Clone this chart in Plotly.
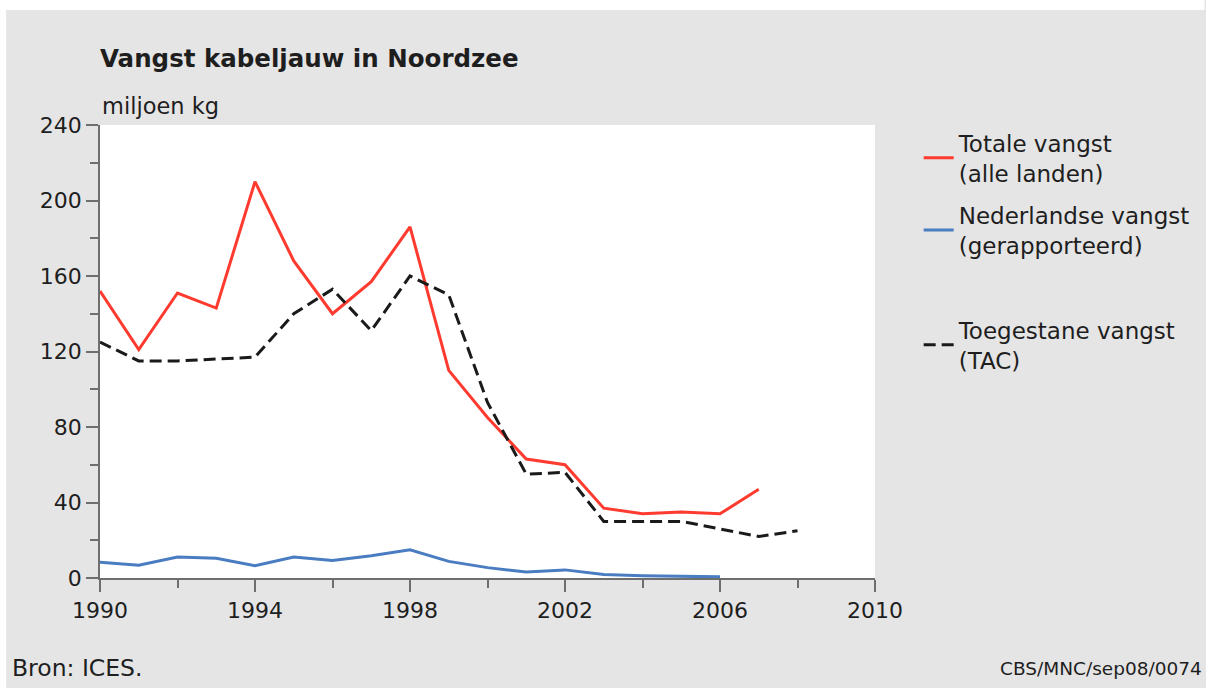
import plotly.graph_objects as go

years_total = list(range(1990, 2008))
totale_vangst = [152, 121, 151, 143, 210, 168, 140, 157, 186, 110, 85, 63, 60, 37, 34, 35, 34, 47]

years_nl = list(range(1990, 2007))
nederlandse_vangst = [8.3, 6.8, 11.1, 10.4, 6.5, 11.1, 9.3, 11.8, 14.9, 8.8, 5.5, 3.2, 4.3, 1.8, 1.2, 0.9, 0.6]

years_tac = list(range(1990, 2009))
toegestane_vangst = [125, 115, 115, 116, 117, 140, 153, 131, 160, 150, 93, 55, 56, 30, 30, 30, 26, 22, 25]

x_ticks = [1990, 1994, 1998, 2002, 2006, 2010]
y_ticks = [0, 40, 80, 120, 160, 200, 240]

FONT = "DejaVu Sans, Arial, sans-serif"
BG = "#e5e5e5"
TXT = "#1e1e1e"

fig = go.Figure()
fig.add_trace(go.Scatter(
    x=years_total, y=totale_vangst, mode="lines",
    name="Totale vangst<br>(alle landen)", legendgroup="g1",
    line=dict(color="#ff3a2e", width=3)))
fig.add_trace(go.Scatter(
    x=years_nl, y=nederlandse_vangst, mode="lines",
    name="Nederlandse vangst<br>(gerapporteerd)", legendgroup="g2",
    line=dict(color="#4a7cc2", width=3)))
# invisible spacer entry so the TAC entry sits lower in the legend, as in the original
fig.add_trace(go.Scatter(
    x=[None], y=[None], mode="lines", name=" ", legendgroup="g3",
    hoverinfo="skip", line=dict(color="rgba(0,0,0,0)", width=0)))
fig.add_trace(go.Scatter(
    x=years_tac, y=toegestane_vangst, mode="lines",
    name="Toegestane vangst<br>(TAC)", legendgroup="g4",
    line=dict(color="#1a1a1a", width=3, dash="12px,6px")))

axis_common = dict(
    showgrid=False, zeroline=False, showline=True, linecolor="#6e6e6e", linewidth=1.5,
    ticks="outside", tickcolor="#6e6e6e", tickwidth=1.5, ticklen=12,
    tickfont=dict(family=FONT, size=22, color=TXT),
)
minor_common = dict(ticks="outside", ticklen=8, tickcolor="#6e6e6e", tickwidth=1.5)

fig.update_layout(
    width=1206, height=688,
    paper_bgcolor=BG, plot_bgcolor="white",
    margin=dict(l=100, r=330, t=125, b=110),
    font=dict(family=FONT, size=22, color=TXT),
    title=dict(text="<b>Vangst kabeljauw in Noordzee</b>",
               font=dict(family=FONT, size=24.5, color=TXT),
               xref="paper", x=0, xanchor="left",
               yref="container", y=1 - 58 / 688, yanchor="middle"),
    xaxis=dict(range=[1990, 2010], tickvals=x_ticks, ticktext=[str(v) for v in x_ticks],
               minor=dict(dtick=2, tick0=1990, **minor_common),
               **axis_common),
    yaxis=dict(range=[0, 240], tickvals=y_ticks,
               minor=dict(dtick=20, tick0=0, **minor_common),
               **axis_common),
    legend=dict(x=1.055, xanchor="left", y=1.008, yanchor="top",
                bgcolor="rgba(0,0,0,0)", traceorder="grouped",
                tracegroupgap=9.5,
                font=dict(family=FONT, size=23, color=TXT)),
    showlegend=True,
)

fig.add_annotation(text="miljoen kg", xref="paper", yref="paper", x=0, y=1,
                   xanchor="left", yanchor="bottom", yshift=4, showarrow=False,
                   font=dict(family=FONT, size=22.5, color=TXT))
fig.add_annotation(text="Bron: ICES.", xref="paper", yref="paper",
                   x=-90 / 776, y=-90 / 453, xanchor="left", yanchor="middle",
                   showarrow=False, font=dict(family=FONT, size=23.5, color=TXT))
fig.add_annotation(text="CBS/MNC/sep08/0074", xref="paper", yref="paper",
                   x=(1205 - 100) / 776, y=-90 / 453, xanchor="right", yanchor="middle",
                   showarrow=False, font=dict(family=FONT, size=18.5, color=TXT))

# white strips along the top and left edges of the image
fig.add_shape(type="rect", xref="paper", yref="paper", layer="below",
              x0=-100 / 776, x1=1106 / 776, y0=1 + 115 / 453, y1=1 + 125 / 453,
              fillcolor="white", line=dict(width=0))
fig.add_shape(type="rect", xref="paper", yref="paper", layer="below",
              x0=-100 / 776, x1=-94 / 776, y0=-110 / 453, y1=1 + 125 / 453,
              fillcolor="white", line=dict(width=0))

fig.write_html(
    "out.html",
    config={"displayModeBar": False},
    post_script=(
        "document.documentElement.style.margin='0';"
        "document.documentElement.style.overflow='hidden';"
        "document.documentElement.style.background='#e5e5e5';"
        "document.body.style.margin='0';"
        "document.body.style.overflow='hidden';"
        "document.body.style.background='#e5e5e5';"
    ),
)
